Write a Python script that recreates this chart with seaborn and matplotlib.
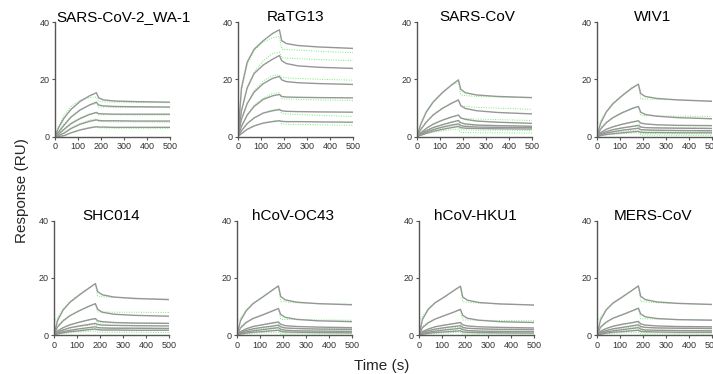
import matplotlib
matplotlib.use('Agg')
import matplotlib.pyplot as plt
import seaborn as sns
import pandas as pd

times = [0, 15, 40, 70, 110, 150, 180, 190, 210, 260, 350, 500]

names = ['SARS-CoV-2_WA-1', 'RaTG13', 'SARS-CoV', 'WIV1',
         'SHC014', 'hCoV-OC43', 'hCoV-HKU1', 'MERS-CoV']

# fitted curves (grey), one list per concentration
fit_wa1 = [
    [0, 3.0, 6.5, 9.5, 12.3, 14.2, 15.3, 13.5, 12.8, 12.4, 12.2, 12.0],
    [0, 1.5, 4.0, 6.8, 9.3, 11.0, 12.0, 11.0, 10.7, 10.5, 10.4, 10.3],
    [0, 0.8, 2.5, 4.5, 6.3, 7.7, 8.4, 8.0, 7.9, 7.8, 7.8, 7.8],
    [0, 0.3, 1.2, 2.8, 4.3, 5.3, 5.8, 5.6, 5.5, 5.5, 5.4, 5.4],
    [0, 0, 0.3, 1.3, 2.3, 3.0, 3.4, 3.3, 3.3, 3.2, 3.2, 3.2],
]
fit_ratg13 = [
    [0, 17.0, 26.0, 30.5, 33.5, 36.0, 37.3, 33.5, 32.5, 31.8, 31.3, 30.8],
    [0, 9.0, 17.0, 22.0, 25.0, 27.0, 28.3, 26.5, 25.5, 24.7, 24.2, 23.8],
    [0, 6.0, 11.5, 15.5, 18.5, 20.3, 21.0, 19.8, 19.2, 18.8, 18.5, 18.2],
    [0, 3.5, 7.5, 10.5, 13.0, 14.2, 14.7, 14.0, 13.8, 13.7, 13.6, 13.5],
    [0, 2.0, 4.5, 6.5, 8.2, 9.0, 9.4, 9.0, 8.8, 8.7, 8.6, 8.5],
    [0, 1.0, 2.5, 3.7, 4.7, 5.2, 5.5, 5.3, 5.2, 5.2, 5.1, 5.0],
]
fit_sars = [
    [0, 4.0, 8.5, 12.0, 15.3, 18.0, 19.8, 16.5, 15.3, 14.5, 14.0, 13.6],
    [0, 2.3, 5.0, 7.5, 9.8, 11.6, 12.8, 10.8, 9.8, 9.0, 8.4, 7.9],
    [0, 1.2, 2.8, 4.3, 5.7, 6.8, 7.5, 6.5, 6.0, 5.4, 5.0, 4.6],
    [0, 0.9, 2.0, 3.1, 4.1, 5.0, 5.6, 4.8, 4.4, 4.0, 3.8, 3.6],
    [0, 0.6, 1.5, 2.4, 3.3, 4.0, 4.4, 3.8, 3.5, 3.3, 3.2, 3.1],
    [0, 0.4, 1.1, 1.8, 2.5, 3.1, 3.5, 3.1, 2.9, 2.8, 2.7, 2.6],
]
fit_wiv1 = [
    [0, 4.5, 8.5, 11.5, 14.3, 16.8, 18.3, 15.0, 14.0, 13.3, 12.8, 12.3],
    [0, 2.5, 4.8, 6.6, 8.3, 9.7, 10.5, 8.5, 7.7, 7.1, 6.6, 6.2],
    [0, 1.3, 2.5, 3.4, 4.3, 5.0, 5.5, 4.7, 4.4, 4.1, 3.9, 3.8],
    [0, 0.9, 1.7, 2.4, 3.0, 3.5, 3.9, 3.3, 3.1, 3.0, 2.9, 2.8],
    [0, 0.6, 1.2, 1.7, 2.2, 2.6, 2.9, 2.4, 2.3, 2.2, 2.1, 2.0],
    [0, 0.3, 0.7, 1.0, 1.3, 1.6, 1.8, 1.5, 1.4, 1.4, 1.3, 1.3],
]
fit_shc014 = [
    [0, 5.0, 8.8, 11.5, 14.0, 16.3, 18.0, 15.2, 14.1, 13.3, 12.8, 12.4],
    [0, 2.8, 5.0, 6.8, 8.5, 10.0, 11.0, 9.0, 8.0, 7.3, 6.9, 6.6],
    [0, 1.4, 2.6, 3.6, 4.5, 5.3, 5.8, 5.0, 4.7, 4.4, 4.2, 4.1],
    [0, 1.0, 1.8, 2.6, 3.2, 3.7, 4.1, 3.7, 3.5, 3.4, 3.3, 3.2],
    [0, 0.6, 1.2, 1.7, 2.2, 2.6, 2.9, 2.6, 2.5, 2.4, 2.4, 2.3],
    [0, 0.4, 0.8, 1.2, 1.5, 1.9, 2.1, 1.9, 1.8, 1.8, 1.7, 1.7],
]
fit_oc43 = [
    [0, 5.0, 8.5, 11.0, 13.2, 15.5, 17.2, 13.5, 12.3, 11.5, 11.0, 10.6],
    [0, 2.5, 4.4, 5.8, 7.0, 8.3, 9.3, 7.2, 6.2, 5.5, 5.0, 4.7],
    [0, 1.2, 2.2, 3.0, 3.6, 4.2, 4.6, 3.8, 3.3, 3.0, 2.8, 2.6],
    [0, 0.9, 1.6, 2.2, 2.7, 3.1, 3.5, 2.9, 2.5, 2.3, 2.1, 2.0],
    [0, 0.6, 1.1, 1.5, 1.9, 2.3, 2.6, 2.0, 1.7, 1.5, 1.4, 1.3],
    [0, 0.4, 0.7, 1.0, 1.2, 1.5, 1.7, 1.3, 1.1, 1.0, 0.9, 0.8],
]
fit_hku1 = [
    [0, 5.5, 9.0, 11.3, 13.3, 15.5, 17.1, 13.3, 12.2, 11.4, 10.9, 10.5],
    [0, 2.6, 4.3, 5.6, 6.8, 8.0, 9.0, 6.9, 5.9, 5.2, 4.7, 4.4],
    [0, 1.2, 2.1, 2.9, 3.5, 4.0, 4.4, 3.6, 3.2, 2.9, 2.7, 2.5],
    [0, 0.9, 1.5, 2.1, 2.6, 3.0, 3.3, 2.7, 2.4, 2.2, 2.0, 1.9],
    [0, 0.6, 1.0, 1.4, 1.8, 2.1, 2.4, 1.9, 1.6, 1.4, 1.3, 1.2],
    [0, 0.3, 0.6, 0.9, 1.1, 1.3, 1.5, 1.1, 1.0, 0.9, 0.8, 0.7],
]
fit_mers = [
    [0, 5.2, 8.8, 11.2, 13.3, 15.5, 17.2, 13.6, 12.4, 11.6, 11.1, 10.7],
    [0, 2.7, 4.5, 5.9, 7.1, 8.4, 9.4, 7.4, 6.4, 5.8, 5.4, 5.2],
    [0, 1.3, 2.3, 3.1, 3.8, 4.3, 4.8, 3.9, 3.5, 3.2, 3.0, 2.9],
    [0, 0.9, 1.6, 2.2, 2.7, 3.2, 3.6, 3.0, 2.7, 2.5, 2.4, 2.3],
    [0, 0.6, 1.1, 1.5, 1.9, 2.3, 2.6, 2.1, 1.8, 1.7, 1.6, 1.5],
    [0, 0.3, 0.7, 1.0, 1.2, 1.5, 1.7, 1.3, 1.2, 1.1, 1.0, 1.0],
]

# measured traces (green, dotted)
data_wa1 = [
    [0, 3.5, 7.5, 10.5, 12.8, 13.6, 13.8, 12.2, 12.1, 12.0, 11.9, 11.8],
    [0, 1.8, 4.5, 7.0, 9.5, 11.0, 11.5, 10.3, 10.3, 10.2, 10.2, 10.1],
    [0, 1.0, 2.8, 4.8, 6.5, 7.8, 8.3, 7.6, 7.6, 7.6, 7.5, 7.5],
    [0, 0.4, 1.5, 3.0, 4.6, 5.7, 6.1, 5.2, 5.2, 5.1, 5.1, 5.0],
    [0, 0, 0.3, 1.3, 2.4, 3.2, 3.5, 3.0, 3.0, 2.9, 2.9, 2.9],
]
data_ratg13 = [
    [0, 16.0, 25.0, 30.0, 33.0, 34.5, 35.0, 30.5, 30.4, 30.2, 29.8, 29.3],
    [0, 9.0, 17.0, 22.5, 26.5, 29.0, 29.5, 27.5, 27.4, 27.2, 26.9, 26.5],
    [0, 6.0, 11.5, 16.0, 19.5, 21.2, 21.6, 20.6, 20.5, 20.3, 20.0, 19.7],
    [0, 3.5, 7.5, 11.0, 13.5, 15.0, 15.3, 13.2, 13.1, 13.0, 12.8, 12.6],
    [0, 2.0, 4.5, 6.5, 8.3, 9.3, 9.7, 8.0, 7.9, 7.7, 7.4, 7.0],
    [0, 1.0, 2.5, 3.7, 4.7, 5.4, 5.6, 4.4, 4.3, 4.2, 4.1, 3.9],
]
data_sars = [
    [0, 4.5, 9.0, 12.3, 15.5, 18.0, 19.0, 14.5, 14.3, 14.0, 13.8, 13.5],
    [0, 2.5, 5.2, 7.7, 10.0, 11.8, 12.5, 10.7, 10.5, 10.2, 9.9, 9.5],
    [0, 1.3, 2.9, 4.4, 5.8, 6.9, 7.3, 6.4, 6.3, 6.1, 5.9, 5.6],
    [0, 1.0, 2.1, 3.2, 4.2, 5.0, 5.4, 4.0, 3.9, 3.8, 3.7, 3.5],
    [0, 0.7, 1.5, 2.3, 3.0, 3.6, 3.9, 2.3, 2.3, 2.2, 2.2, 2.1],
    [0, 0.4, 1.0, 1.5, 2.0, 2.4, 2.6, 1.4, 1.4, 1.3, 1.3, 1.2],
]
data_wiv1 = [
    [4.0, 5.5, 8.8, 11.8, 14.5, 17.0, 18.3, 13.2, 13.1, 13.0, 12.8, 12.5],
    [2.5, 3.2, 5.0, 6.8, 8.5, 9.8, 10.6, 7.3, 7.3, 7.2, 7.1, 7.0],
    [1.0, 1.5, 2.6, 3.5, 4.3, 5.0, 5.4, 3.2, 3.2, 3.1, 3.1, 3.0],
    [0.5, 1.0, 1.7, 2.4, 3.0, 3.4, 3.7, 2.0, 2.0, 2.0, 1.9, 1.9],
    [0, 0.5, 1.0, 1.4, 1.8, 2.1, 2.3, 1.0, 1.0, 1.0, 0.9, 0.9],
    [0, 0.3, 0.6, 0.8, 1.0, 1.2, 1.3, 0.5, 0.5, 0.5, 0.4, 0.4],
]
data_shc014 = [
    [4.5, 6.0, 9.2, 11.8, 14.3, 16.5, 17.8, 13.6, 13.4, 13.2, 12.9, 12.6],
    [2.5, 3.3, 5.2, 7.0, 8.6, 10.0, 10.8, 8.1, 8.1, 8.0, 8.0, 7.9],
    [1.0, 1.6, 2.7, 3.7, 4.5, 5.3, 5.7, 4.3, 4.3, 4.3, 4.2, 4.2],
    [0.5, 1.0, 1.7, 2.4, 3.0, 3.4, 3.7, 2.6, 2.6, 2.6, 2.5, 2.5],
    [0, 0.5, 1.0, 1.4, 1.8, 2.1, 2.3, 1.7, 1.7, 1.6, 1.6, 1.6],
    [0, 0.3, 0.6, 0.8, 1.1, 1.3, 1.4, 1.0, 1.0, 1.0, 1.0, 0.9],
]
data_oc43 = [
    [4.5, 6.0, 8.8, 11.2, 13.4, 15.5, 17.0, 11.8, 11.6, 11.3, 11.0, 10.8],
    [2.3, 3.0, 4.6, 5.9, 7.1, 8.3, 9.2, 5.5, 5.5, 5.4, 5.3, 5.2],
    [1.0, 1.4, 2.2, 3.0, 3.6, 4.1, 4.4, 2.4, 2.4, 2.3, 2.3, 2.3],
    [0.5, 0.8, 1.4, 1.9, 2.3, 2.7, 2.9, 1.5, 1.5, 1.5, 1.4, 1.4],
    [0, 0.5, 0.8, 1.1, 1.4, 1.7, 1.8, 0.8, 0.8, 0.8, 0.8, 0.7],
    [0, 0.2, 0.4, 0.6, 0.8, 0.9, 1.0, 0.4, 0.4, 0.4, 0.4, 0.4],
]
data_hku1 = [
    [5.0, 6.5, 9.2, 11.4, 13.4, 15.5, 17.0, 11.7, 11.5, 11.2, 10.9, 10.6],
    [2.5, 3.1, 4.5, 5.7, 6.9, 8.0, 8.9, 5.3, 5.3, 5.2, 5.1, 5.0],
    [1.0, 1.4, 2.1, 2.9, 3.5, 4.0, 4.3, 2.3, 2.3, 2.2, 2.2, 2.2],
    [0.5, 0.8, 1.4, 1.9, 2.3, 2.6, 2.8, 1.4, 1.4, 1.4, 1.3, 1.3],
    [0, 0.5, 0.8, 1.1, 1.4, 1.6, 1.7, 0.8, 0.8, 0.7, 0.7, 0.7],
    [0, 0.2, 0.4, 0.6, 0.7, 0.9, 1.0, 0.4, 0.4, 0.4, 0.4, 0.3],
]
data_mers = [
    [4.8, 6.3, 9.0, 11.4, 13.5, 15.5, 17.0, 11.8, 11.6, 11.3, 11.0, 10.8],
    [2.4, 3.1, 4.7, 6.0, 7.2, 8.4, 9.3, 5.7, 5.7, 5.6, 5.5, 5.4],
    [1.0, 1.5, 2.3, 3.1, 3.7, 4.3, 4.6, 2.6, 2.6, 2.5, 2.5, 2.5],
    [0.5, 0.8, 1.5, 2.0, 2.4, 2.8, 3.0, 1.6, 1.6, 1.6, 1.5, 1.5],
    [0, 0.5, 0.9, 1.2, 1.5, 1.7, 1.9, 0.9, 0.9, 0.9, 0.8, 0.8],
    [0, 0.2, 0.4, 0.6, 0.8, 0.9, 1.0, 0.4, 0.4, 0.4, 0.4, 0.4],
]

fits = [fit_wa1, fit_ratg13, fit_sars, fit_wiv1, fit_shc014, fit_oc43, fit_hku1, fit_mers]
traces = [data_wa1, data_ratg13, data_sars, data_wiv1, data_shc014, data_oc43, data_hku1, data_mers]


def to_long(curves):
    rows = []
    for i, c in enumerate(curves):
        for t, r in zip(times, c):
            rows.append({'time': t, 'response': r, 'curve': i})
    return pd.DataFrame(rows)


sns.set_style('ticks')
plt.rcParams['font.family'] = ['Liberation Sans', 'DejaVu Sans']

fig = plt.figure(figsize=(7.13, 3.74), dpi=100)

# panel layout in figure fractions
lefts = [0.0771, 0.3338, 0.5849, 0.8373, 0.0757, 0.3324, 0.5877, 0.8373]
bottoms = [0.635] * 4 + [0.104] * 4
w, h = 0.1613, 0.306
title_x = [0.6, 0.5, 0.52, 0.48, 0.5, 0.49, 0.49, 0.49]

for k, name in enumerate(names):
    ax = fig.add_axes([lefts[k], bottoms[k], w, h])
    # green dotted traces underneath, grey fits on top
    sns.lineplot(data=to_long(traces[k]), x='time', y='response', units='curve',
                 estimator=None, color='#6ef06e', lw=0.7, ls=(0, (1, 1.5)),
                 ax=ax, legend=False)
    sns.lineplot(data=to_long(fits[k]), x='time', y='response', units='curve',
                 estimator=None, color='#969696', lw=1.0, ax=ax, legend=False)
    ax.set_xlim(0, 500)
    ax.set_ylim(0, 40)
    ax.set_xticks([0, 100, 200, 300, 400, 500])
    ax.set_yticks([0, 20, 40])
    ax.set_xlabel('')
    ax.set_ylabel('')
    sns.despine(ax=ax)
    for s in ['left', 'bottom']:
        ax.spines[s].set_color('#555555')
        ax.spines[s].set_linewidth(1.0)
    ax.tick_params(length=2.5, width=0.8, color='#555555', labelsize=6.5,
                   labelcolor='#333333', pad=1.5)
    ax.text(title_x[k], 1.045, name, transform=ax.transAxes, ha='center',
            va='center', fontsize=11, color='black')

fig.text(0.031, 0.49, 'Response (RU)', rotation=90, ha='center', va='center', fontsize=11)
fig.text(0.535, 0.022, 'Time (s)', ha='center', va='center', fontsize=11)

fig.savefig('out.png', dpi=100)
